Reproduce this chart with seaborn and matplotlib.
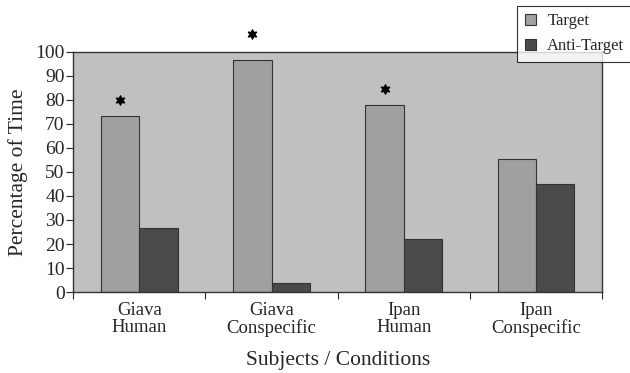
import pandas as pd
import numpy as np
import matplotlib
matplotlib.use('Agg')
import matplotlib.pyplot as plt
import seaborn as sns

# Data
conditions = ['Giava\nHuman', 'Giava\nConspecific', 'Ipan\nHuman', 'Ipan\nConspecific']
target = [73.5, 96.4, 78.0, 55.2]
anti_target = [26.5, 3.6, 22.0, 44.8]
# height of the significance star above each target bar (None = no star)
star_level = [80.0, 107.5, 84.5, None]

df = pd.DataFrame({
    'Condition': conditions * 2,
    'Percentage': target + anti_target,
    'Series': ['Target'] * 4 + ['Anti-Target'] * 4,
})

sns.set_style('white')
plt.rcParams['font.family'] = ['Liberation Serif', 'DejaVu Serif']

fig = plt.figure(figsize=(6.3, 3.73), dpi=100)
ax = fig.add_axes([0.116, 0.217, 0.840, 0.644])
ax.set_facecolor('#c0c0c0')

palette = {'Target': '#a0a0a0', 'Anti-Target': '#4a4a4a'}
sns.barplot(data=df, x='Condition', y='Percentage', hue='Series', palette=palette,
            width=0.58, gap=0, edgecolor='#333333', linewidth=0.8, saturation=1,
            ax=ax, legend=False)

# significance stars above target bars
bars = ax.patches[:4]
for b, lvl in zip(bars, star_level):
    if lvl is not None:
        ax.scatter(b.get_x() + b.get_width() / 2, lvl,
                   marker=(6, 1, 0), s=45, color='black', clip_on=False, zorder=5)

ax.set_xlim(-0.5, 3.5)
ax.set_ylim(0, 100)
ax.set_yticks(range(0, 101, 10))
ax.tick_params(axis='y', labelsize=14, length=5, width=0.8, direction='out', left=True, pad=1)
ax.set_xticks(range(4))
ax.set_xticklabels(conditions, fontsize=13.5, linespacing=1.05)
ax.tick_params(axis='x', length=0, pad=7)
ax.set_xticks([-0.5, 0.5, 1.5, 2.5, 3.5], minor=True)
ax.tick_params(axis='x', which='minor', length=5, width=0.8, direction='out', bottom=True)

for s in ax.spines.values():
    s.set_color('#333333')
    s.set_linewidth(1.0)

ax.set_xlabel('Subjects / Conditions', fontsize=15.5, labelpad=10)
ax.set_ylabel('Percentage of Time', fontsize=15.5, labelpad=5)

handles = [plt.Rectangle((0, 0), 1, 1, facecolor=palette[k], edgecolor='#333333', linewidth=0.8)
           for k in ['Target', 'Anti-Target']]
leg = fig.legend(handles, ['Target', 'Anti-Target'], loc='upper right',
                 bbox_to_anchor=(1.003, 0.985), fontsize=12, frameon=True,
                 fancybox=False, edgecolor='black', handlelength=0.65, handleheight=0.65,
                 handletextpad=0.7, borderpad=0.45, labelspacing=0.55, borderaxespad=0)
leg.get_frame().set_linewidth(0.8)

fig.savefig('out.png', dpi=100)
